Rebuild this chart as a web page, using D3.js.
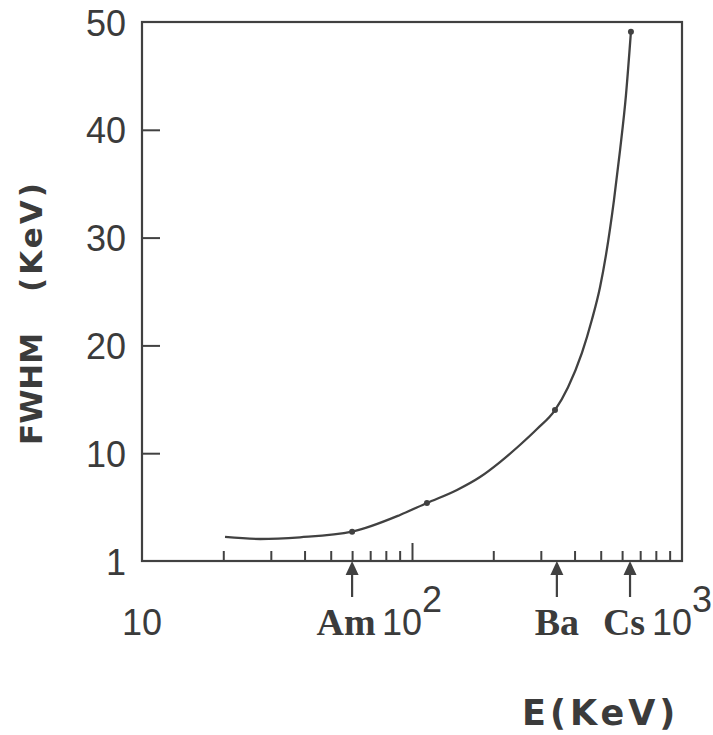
<!DOCTYPE html>
<html>
<head>
<meta charset="utf-8">
<script src="https://cdn.jsdelivr.net/npm/d3@7"></script>
<style>
  body { margin: 0; background: #ffffff; }
  text { fill: #3b3b3b; }
</style>
</head>
<body>
<div id="container"></div>
<script>
/* CONSTANTS AND GLOBALS */
const width = 713,
  height = 735,
  margin = { top: 22, bottom: 174, left: 142, right: 31 },
  ink = "#414141";

/* DATA */
// energy of the points along the curve (keV) and the FWHM there
const energy = [20.3, 27.4, 38.5, 60, 90.3, 113.6, 146.8, 178.6, 211.8, 251, 290.4, 338.5,
  378, 426, 464, 497, 523, 560, 589.5, 620, 647];
const fwhm = [2.23, 2.04, 2.2, 2.72, 4.27, 5.38, 6.59, 7.79, 9.18, 10.76, 12.24, 14.0,
  16.1, 19.3, 22.4, 25.4, 28.4, 33.5, 38.1, 43.2, 49.1];

// the measured points marked with a dot
const markEnergy = [60, 113.6, 338.5, 647];
const markFwhm = [2.72, 5.38, 14.0, 49.1];

// gamma sources shown with arrows under the axis
const sources = ["Am", "Ba", "Cs"];
const sourceEnergy = [60, 344, 642];

// axis ticks
const yTickValues = [0, 10, 20, 30, 40, 50];
const yTickLabels = ["1", "10", "20", "30", "40", "50"];
const xDecades = [10, 100, 1000];
const xDecadeExp = ["", "2", "3"];
const xMinorTicks = [20, 30, 40, 50, 60, 70, 80, 90, 200, 300, 400, 500, 600, 700, 800, 900];

/* SCALES */
const xScale = d3.scaleLog()
  .domain([10, 1000])
  .range([margin.left, width - margin.right]);

const yScale = d3.scaleLinear()
  .domain([0, 50])
  .range([height - margin.bottom, margin.top]);

const svg = d3.select("#container")
  .append("svg")
  .attr("width", width)
  .attr("height", height);

// frame round the plot
svg.append("rect")
  .attr("x", xScale(10))
  .attr("y", yScale(50))
  .attr("width", xScale(1000) - xScale(10))
  .attr("height", yScale(0) - yScale(50))
  .attr("fill", "none")
  .attr("stroke", ink)
  .attr("stroke-width", 2.2);

/* Y AXIS: ticks point inwards, labels on the left */
const yAxis = d3.axisRight(yScale)
  .tickValues(yTickValues.filter(d => d > 0 && d < 50))
  .tickSize(18)
  .tickFormat("");

svg.append("g")
  .attr("transform", `translate(${xScale(10)}, 0)`)
  .call(yAxis)
  .call(g => g.select(".domain").remove())
  .call(g => g.selectAll("line").attr("stroke", ink).attr("stroke-width", 2));

svg.selectAll(".y-label")
  .data(yTickValues)
  .join("text")
  .attr("class", "y-label")
  .attr("x", 126)
  .attr("y", d => yScale(d) + 1)
  .attr("text-anchor", "end")
  .attr("dominant-baseline", "central")
  .style("font-family", "Liberation Sans, Arial, sans-serif")
  .style("font-size", "36px")
  .text((d, i) => yTickLabels[i]);

/* X AXIS: log ticks pointing up into the plot */
const xMinor = d3.axisTop(xScale)
  .tickValues(xMinorTicks)
  .tickSize(10)
  .tickFormat("");

const xMajor = d3.axisTop(xScale)
  .tickValues([100])
  .tickSize(18)
  .tickFormat("");

[xMinor, xMajor].forEach(ax => {
  svg.append("g")
    .attr("transform", `translate(0, ${yScale(0)})`)
    .call(ax)
    .call(g => g.select(".domain").remove())
    .call(g => g.selectAll("line").attr("stroke", ink).attr("stroke-width", 2));
});

const decadeLabels = svg.selectAll(".x-label")
  .data(xDecades)
  .join("text")
  .attr("class", "x-label")
  .attr("x", d => xScale(d))
  .attr("y", 635)
  .attr("text-anchor", "middle")
  .style("font-family", "Liberation Sans, Arial, sans-serif")
  .style("font-size", "36px");

decadeLabels.append("tspan").text("10");
decadeLabels.append("tspan")
  .attr("dy", -23)
  .text((d, i) => xDecadeExp[i]);

/* SOURCE ARROWS */
const arrows = svg.selectAll(".arrow")
  .data(sources)
  .join("g")
  .attr("class", "arrow")
  .attr("transform", (d, i) => `translate(${xScale(sourceEnergy[i])}, ${yScale(0)})`);

arrows.append("line")
  .attr("y1", 12)
  .attr("y2", 36)
  .attr("stroke", ink)
  .attr("stroke-width", 2.2);

arrows.append("path")
  .attr("d", "M-6.5,14 L6.5,14 L0,0 Z")
  .attr("fill", ink);

arrows.append("text")
  .attr("x", (d, i) => i === 1 ? 0 : -6)
  .attr("y", 635 - yScale(0))
  .attr("text-anchor", "middle")
  .style("font-family", "Liberation Serif, Times New Roman, serif")
  .style("font-weight", "bold")
  .style("font-size", "38px")
  .text(d => d);

/* CURVE */
const line = d3.line()
  .x(d => xScale(d[0]))
  .y(d => yScale(d[1]))
  .curve(d3.curveMonotoneX);

svg.append("path")
  .datum(energy.map((e, i) => [e, fwhm[i]]))
  .attr("d", line)
  .attr("fill", "none")
  .attr("stroke", ink)
  .attr("stroke-width", 2.3);

svg.selectAll(".mark")
  .data(markEnergy)
  .join("circle")
  .attr("class", "mark")
  .attr("cx", d => xScale(d))
  .attr("cy", (d, i) => yScale(markFwhm[i]))
  .attr("r", 3)
  .attr("fill", ink);

/* AXIS TITLES */
const yTitle = svg.append("text")
  .attr("transform", "translate(42, 445) rotate(-90)")
  .style("font-family", "DejaVu Sans, sans-serif")
  .style("font-weight", "bold")
  .style("font-size", "31px");

yTitle.append("tspan").text("FWHM");
yTitle.append("tspan")
  .attr("x", 153)
  .attr("letter-spacing", 3)
  .text("(KeV)");

svg.append("text")
  .attr("x", 522)
  .attr("y", 725)
  .attr("letter-spacing", 4)
  .style("font-family", "DejaVu Sans, sans-serif")
  .style("font-weight", "bold")
  .style("font-size", "35px")
  .text("E(KeV)");
</script>
</body>
</html>
